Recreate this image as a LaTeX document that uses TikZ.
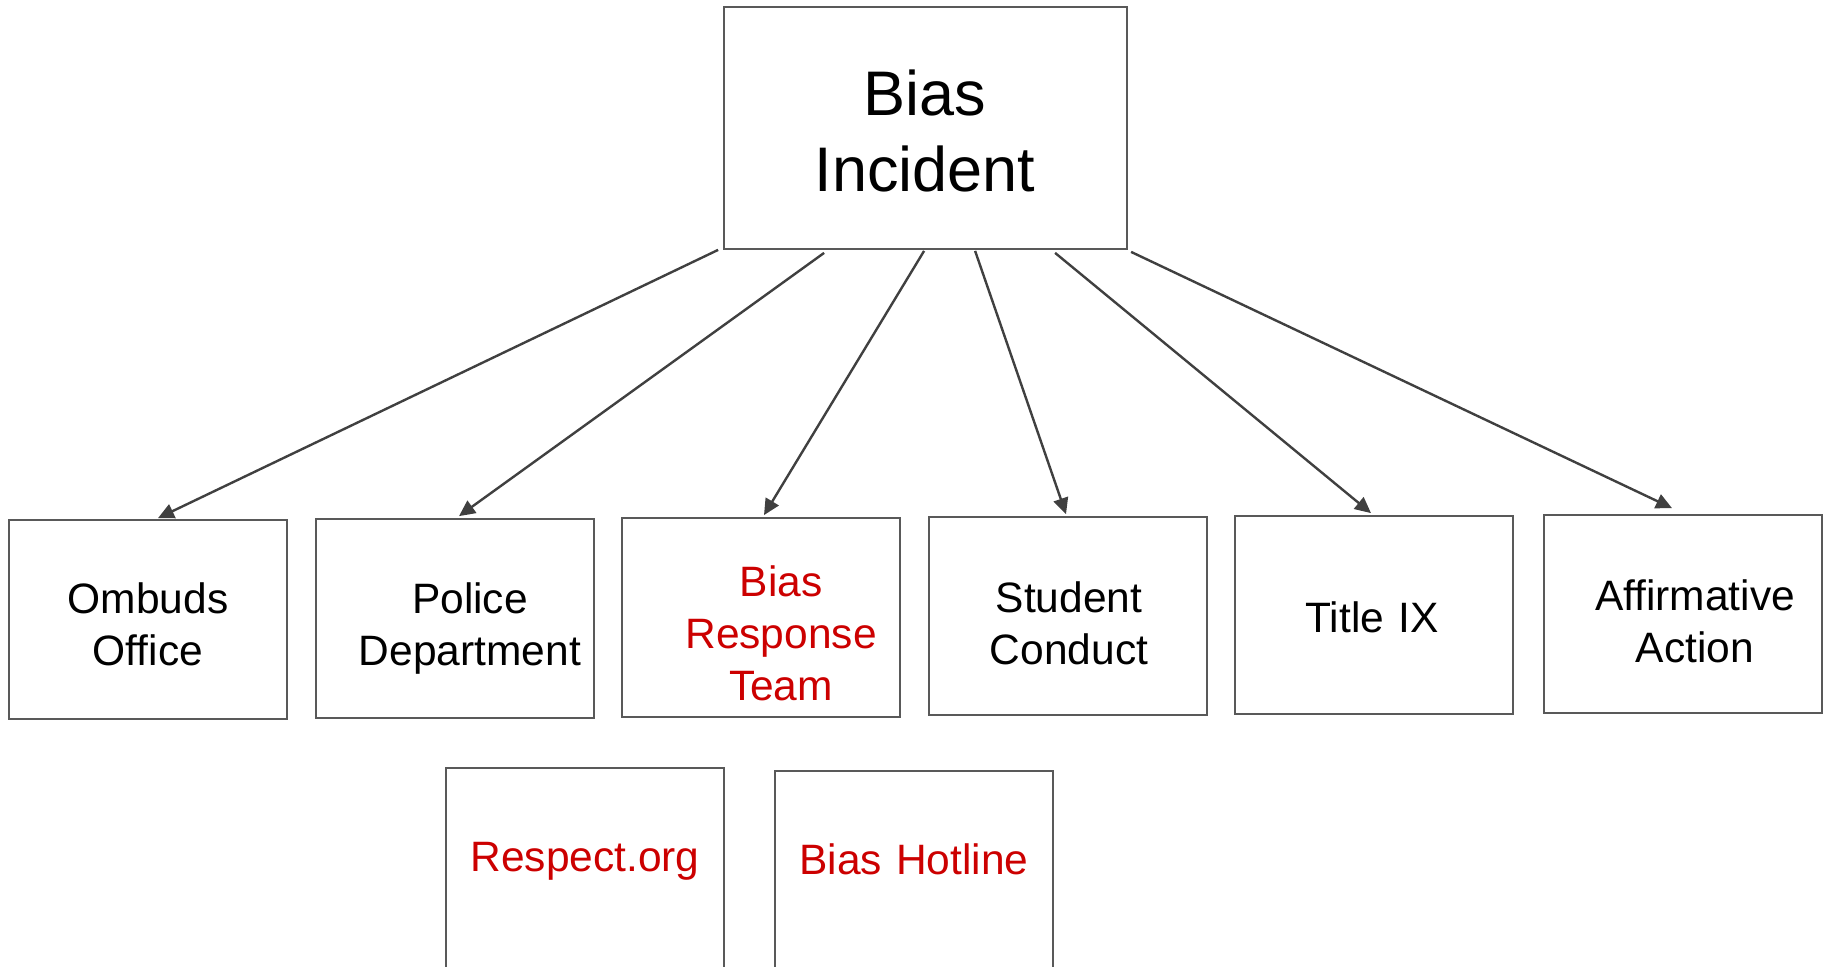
\documentclass[tikz,border=0pt]{standalone}
\usepackage{fontspec}
\setmainfont{Liberation Sans}
\usetikzlibrary{arrows.meta,calc}
\definecolor{boxgray}{RGB}{89,89,89}
\definecolor{arrgray}{RGB}{64,64,64}
\definecolor{txtred}{RGB}{204,0,0}
\tikzset{
  box/.style={draw=boxgray, line width=1.8pt, fill=white, inner sep=0pt},
  smallbox/.style={box, minimum width=278pt, minimum height=199pt},
  lbl/.style={anchor=base, inner sep=0pt, text width=320pt, align=center,
    font=\fontsize{42.5}{52}\selectfont},
  biglbl/.style={anchor=base, inner sep=0pt, text width=400pt, align=center,
    font=\fontsize{63}{76}\selectfont},
  redtxt/.style={text=txtred},
  arr/.style={draw=arrgray, line width=2.4pt, -{Triangle[length=16pt,width=15pt]}}
}
\begin{document}
\begin{tikzpicture}[x=1pt,y=-1pt]
\useasboundingbox (0,0) rectangle (1830,966);
\clip (0,0) rectangle (1830,966);
% boxes
\node[box, minimum width=403pt, minimum height=242pt] (top) at (925.5,128) {};
\node[smallbox] (ombuds) at (148,619.5) {};
\node[smallbox] (police) at (455,618.5) {};
\node[smallbox] (brt) at (761,617.5) {};
\node[smallbox, minimum height=198pt] (student) at (1068,616) {};
\node[smallbox, minimum height=198pt] (title) at (1374,615) {};
\node[smallbox, minimum height=198pt] (affirm) at (1683,614) {};
\node[smallbox, minimum height=250pt] (respect) at (585,893) {};
\node[smallbox, minimum height=250pt] (hotline) at (914,896) {};
% labels
\node[biglbl] (tIncident) at (925,115) {Bias\\Incident};
\node[lbl] (tOmbuds) at (148,613) {Ombuds\\Office};
\node[lbl] (tPolice) at (470,613) {Police\\Department};
\node[lbl, redtxt] (tBrt) at (781,596) {Bias\\Response\\Team};
\node[lbl] (tStudent) at (1069,612) {Student\\Conduct};
\node[lbl] (tTitle) at (1372,632) {Title IX};
\node[lbl] (tAffirm) at (1695,610) {Affirmative\\Action};
\node[lbl, redtxt] (tRespect) at (585,871) {Respect.org};
\node[lbl, redtxt] (tHotline) at (914,874) {Bias Hotline};
% connectors
\draw[arr] ($(top.south west)+(-5,0)$) -- ($(ombuds.north)+(10,-1)$);
\draw[arr] ($(top.south west)+(101,3)$) -- ($(police.north)+(4,-2)$);
\draw[arr] ($(top.south west)+(201,1)$) -- ($(brt.north)+(3,-2)$);
\draw[arr] ($(top.south west)+(252,1)$) -- ($(student.north)+(-2,-2)$);
\draw[arr] ($(top.south west)+(332,3)$) -- ($(title.north)+(-3,-2)$);
\draw[arr] ($(top.south west)+(408,2)$) -- ($(affirm.north)+(-11,-6)$);
\end{tikzpicture}
\end{document}
